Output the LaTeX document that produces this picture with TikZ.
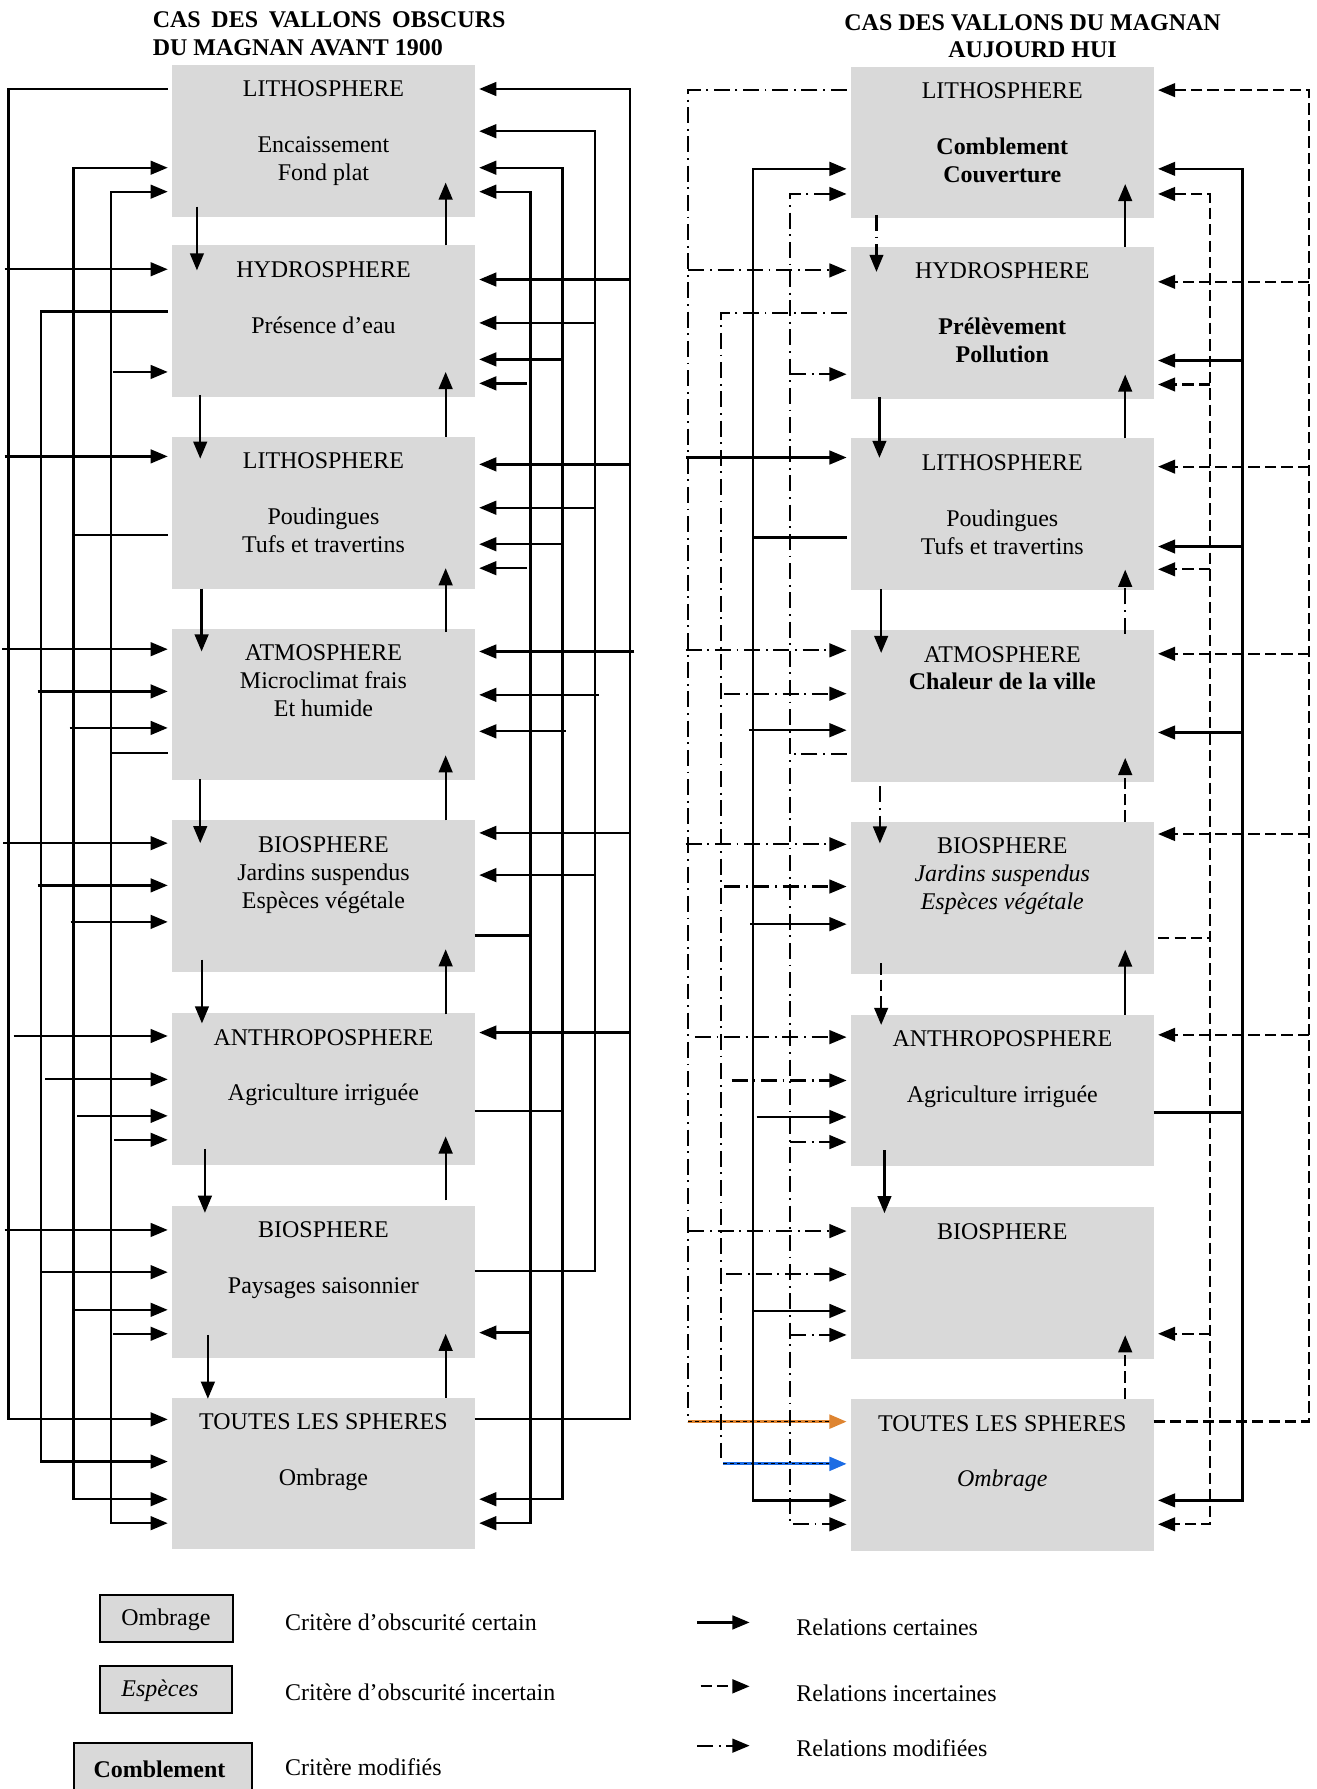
\documentclass[tikz,border=0pt]{standalone}
\usepackage{fontspec}
\setmainfont{Liberation Serif}
\usetikzlibrary{arrows.meta,positioning,calc}
\definecolor{boxgray}{RGB}{217,217,217}
\definecolor{rust}{RGB}{222,132,48}
\definecolor{azur}{RGB}{28,108,228}
\tikzset{
  sphere/.style={fill=boxgray,minimum width=132.5pt,minimum height=66.5pt,inner sep=0pt,outer sep=0pt},
  sptext/.style={align=center,inner sep=0pt,outer sep=0pt,font=\fontsize{10.5}{12.25}\selectfont},
  legbox/.style={draw,fill=boxgray,line width=0.9pt,inner sep=0pt},
  certain/.style={line width=1pt},
  incert/.style={line width=1pt,dash pattern=on 5pt off 2.2pt},
  modif/.style={line width=0.9pt,dash pattern=on 7pt off 2.5pt on 0.8pt off 2.5pt},
  into/.style={->,shorten >=2pt},
  both/.style={<->,shorten <=2pt,shorten >=2pt},
  gap/.style={shorten <=2pt}
}
\begin{document}
\begin{tikzpicture}[x=0.5pt,y=-0.5pt,>={Triangle[length=7.5pt,width=6pt]}]
\useasboundingbox (0,0) rectangle (1154,1568);

% titles
\node[sptext,font=\fontsize{10.5}{12.25}\selectfont\bfseries,align=left,anchor=west] (titreg) at (134,29.7)
  {\makebox[154.5pt][s]{CAS DES VALLONS OBSCURS}\\DU MAGNAN AVANT 1900};
\node[sptext,font=\fontsize{10.5}{12.25}\selectfont\bfseries] (titred) at (905,31.7)
  {CAS DES VALLONS DU MAGNAN\\AUJOURD HUI};

% spheres
\foreach \i/\y in {1/123.5,2/281.5,3/449.5,4/617.5,5/785.5,6/954.5,7/1123.5,8/1291.5}{
  \node[sphere] (l\i) at (283.5,\y) {};
  \node[sphere] (r\i) at (878.5,\y+1.3) {};
}

% avant 1900
\node[sptext,below=5.4pt of l1.north] (tl1) {\strut LITHOSPHERE\\[12.25pt]Encaissement\\Fond plat};
\node[sptext,below=5.4pt of l2.north] (tl2) {\strut HYDROSPHERE\\[12.25pt]Présence d’eau};
\node[sptext,below=5.4pt of l3.north] (tl3) {\strut LITHOSPHERE\\[12.25pt]Poudingues\\Tufs et travertins};
\node[sptext,below=5.4pt of l4.north] (tl4) {\strut ATMOSPHERE\\Microclimat frais\\Et humide};
\node[sptext,below=5.4pt of l5.north] (tl5) {\strut BIOSPHERE\\Jardins suspendus\\Espèces végétale};
\node[sptext,below=5.4pt of l6.north] (tl6) {\strut ANTHROPOSPHERE\\[12.25pt]Agriculture irriguée};
\node[sptext,below=5.4pt of l7.north] (tl7) {\strut BIOSPHERE\\[12.25pt]Paysages saisonnier};
\node[sptext,below=5.4pt of l8.north] (tl8) {\strut TOUTES LES SPHERES\\[12.25pt]Ombrage};

% aujourd'hui
\node[sptext,below=5.4pt of r1.north] (tr1) {\strut LITHOSPHERE\\[12.25pt]\textbf{Comblement}\\\textbf{Couverture}};
\node[sptext,below=5.4pt of r2.north] (tr2) {\strut HYDROSPHERE\\[12.25pt]\textbf{Prélèvement}\\\textbf{Pollution}};
\node[sptext,below=5.4pt of r3.north] (tr3) {\strut LITHOSPHERE\\[12.25pt]Poudingues\\Tufs et travertins};
\node[sptext,below=5.4pt of r4.north] (tr4) {\strut ATMOSPHERE\\\textbf{Chaleur de la ville}};
\node[sptext,below=5.4pt of r5.north] (tr5) {\strut BIOSPHERE\\\textit{Jardins suspendus}\\\textit{Espèces végétale}};
\node[sptext,below=5.4pt of r6.north] (tr6) {\strut ANTHROPOSPHERE\\[12.25pt]Agriculture irriguée};
\node[sptext,below=5.4pt of r7.north] (tr7) {\strut BIOSPHERE};
\node[sptext,below=5.4pt of r8.north] (tr8) {\strut TOUTES LES SPHERES\\[12.25pt]\textit{Ombrage}};

% vertical links, avant 1900
\foreach \x/\src/\dsrc/\dst/\ddst in {172.6/l1/-9/l2/22,175.5/l2/-2/l3/19,176.7/l3/0/l4/20,175.5/l4/-1/l5/20,
    177/l5/-11/l6/9,179.6/l6/-14/l7/6,182.2/l7/-20/l8/1}
  \draw[certain,->] ($(\x,0 |- \src.south)+(0,\dsrc)$) -- ($(\x,0 |- \dst.north)+(0,\ddst)$);
\foreach \src/\dsrc/\dst/\ddst in {l2/0/l1/-30,l3/0/l2/-22,l4/3/l3/-18,l5/0/l4/-22,l6/1/l5/-20,l7/-5/l6/-25,l8/0/l7/-21}
  \draw[certain,->] ($(390.6,0 |- \src.north)+(0,\dsrc)$) -- ($(390.6,0 |- \dst.south)+(0,\ddst)$);

% left buses, avant 1900
\draw[certain,into,gap] (l1.west |- 0,78) -- (7.5,78) -- (7.5,1244) -- (l8.west |- 0,1244);
\foreach \n/\y/\xs in {l2/236/4,l3/400/4,l4/569/2,l5/739/3,l6/908/12,l7/1078/4}
  \draw[certain,into] (\xs,\y) -- (\n.west |- 0,\y);
\draw[certain,into,gap] (l2.west |- 0,273) -- (36,273) -- (36,1281) -- (l8.west |- 0,1281);
\foreach \n/\y/\xs in {l4/606/33,l5/776/33,l6/946/39.5,l7/1115/36}
  \draw[certain,into] (\xs,\y) -- (\n.west |- 0,\y);
\draw[certain,both] (l1.west |- 0,147) -- (64.5,147) -- (64.5,1314) -- (l8.west |- 0,1314);
\draw[certain,gap] (l3.west |- 0,469) -- (64.5,469);
\foreach \n/\y/\xs in {l4/638/61,l5/808/62,l6/978/67.5,l7/1148/64.5}
  \draw[certain,into] (\xs,\y) -- (\n.west |- 0,\y);
\draw[certain,both] (l1.west |- 0,168) -- (97,168) -- (97,1335) -- (l8.west |- 0,1335);
\draw[certain,gap] (l4.west |- 0,660) -- (97,660);
\foreach \n/\y/\xs in {l2/326/99,l6/999/100,l7/1169/99}
  \draw[certain,into] (\xs,\y) -- (\n.west |- 0,\y);

% right buses, avant 1900
\draw[certain,into] (l8.east |- 0,1244) -- (552,1244) -- (552,78) -- (l1.east |- 0,78);
\foreach \n/\y/\xs in {l2/245/553,l3/407/553,l4/571/556,l5/730/553,l6/905/553}
  \draw[certain,into] (\xs,\y) -- (\n.east |- 0,\y);
\draw[certain,into] (l7.east |- 0,1114) -- (521.5,1114) -- (521.5,115) -- (l1.east |- 0,115);
\foreach \n/\y/\xs in {l2/283/521.5,l3/445/521.5,l4/609/525,l5/767/521.5}
  \draw[certain,into] (\xs,\y) -- (\n.east |- 0,\y);
\draw[certain,both] (l1.east |- 0,147) -- (493,147) -- (493,1314) -- (l8.east |- 0,1314);
\draw[certain] (l6.east |- 0,974) -- (493,974);
\foreach \n/\y/\xs in {l2/315/493,l3/477/493,l4/641/496}
  \draw[certain,into] (\xs,\y) -- (\n.east |- 0,\y);
\draw[certain,both] (l1.east |- 0,168) -- (465,168) -- (465,1335) -- (l8.east |- 0,1335);
\draw[certain] (l5.east |- 0,820) -- (465,820);
\foreach \n/\y/\xs in {l2/336/462,l3/498/462,l7/1168/465}
  \draw[certain,into] (\xs,\y) -- (\n.east |- 0,\y);

% vertical links, aujourd'hui
\foreach \x/\src/\dsrc/\dst/\ddst/\st in {768.2/r1/-3/r2/22/modif,770.8/r2/-1/r3/17/certain,772.3/r3/-1/r4/20/certain,
    771.2/r4/4/r5/19/modif,772.3/r5/-9/r6/9/incert,775.2/r6/-14/r7/5/certain}
  \draw[\st,->] ($(\x,0 |- \src.south)+(0,\dsrc)$) -- ($(\x,0 |- \dst.north)+(0,\ddst)$);
\foreach \src/\dsrc/\dst/\ddst/\st in {r2/0/r1/-30/certain,r3/0/r2/-21/certain,r4/3/r3/-18/modif,
    r5/0/r4/-21/incert,r6/0/r5/-21/certain,r8/0/r7/-21/incert}
  \draw[\st,->] ($(986.2,0 |- \src.north)+(0,\dsrc)$) -- ($(986.2,0 |- \dst.south)+(0,\ddst)$);

% left buses, aujourd'hui
\draw[modif,gap] (r1.west |- 0,79) -- (603.4,79) -- (603.4,1246);
\draw[line width=1.3pt,rust,into] (603.4,1246) -- (r8.west |- 0,1246);
\draw[line width=0.5pt,dash pattern=on 1.5pt off 1.5pt,shorten >=9pt] (603.4,1246) -- (r8.west |- 0,1246);
\foreach \n/\y/\xs/\st in {r2/237/603.4/modif,r3/401/601.5/certain,r4/570/601/modif,r5/740/601/modif,
    r6/909/609/modif,r7/1079/603.4/modif}
  \draw[\st,into] (\xs,\y) -- (\n.west |- 0,\y);
\draw[modif,gap] (r2.west |- 0,274) -- (631.8,274) -- (631.8,1278);
\foreach \n/\y/\xs in {r4/608/634.7,r5/777/634.7,r6/947/641.3,r7/1117/636.6}
  \draw[modif,into] (\xs,\y) -- (\n.west |- 0,\y);
\draw[line width=1.3pt,azur,into] (634,1283) -- (r8.west |- 0,1283);
\draw[line width=0.5pt,dash pattern=on 1.5pt off 1.5pt,shorten >=9pt] (634,1283) -- (r8.west |- 0,1283);
\draw[certain,both] (r1.west |- 0,148) -- (660.2,148) -- (660.2,1315) -- (r8.west |- 0,1315);
\draw[certain,gap] (r3.west |- 0,471) -- (660.2,471);
\foreach \n/\y/\xs in {r4/640/656.8,r5/810/657.5,r6/979/663.1,r7/1149/660.2}
  \draw[certain,into] (\xs,\y) -- (\n.west |- 0,\y);
\draw[modif,both] (r1.west |- 0,170) -- (692.6,170) -- (692.6,1336) -- (r8.west |- 0,1336);
\draw[modif,gap] (r4.west |- 0,661) -- (692.6,661);
\foreach \n/\y in {r2/328,r6/1001,r7/1170}
  \draw[modif,into] (692.6,\y) -- (\n.west |- 0,\y);

% right buses, aujourd'hui
\draw[incert,into] (r8.east |- 0,1246) -- (1147.3,1246) -- (1147.3,79) -- (r1.east |- 0,79);
\foreach \n/\y in {r2/247,r3/409,r4/573,r5/731,r6/907}
  \draw[incert,into] (1147.3,\y) -- (\n.east |- 0,\y);
\draw[certain,both] (r1.east |- 0,148) -- (1089.1,148) -- (1089.1,1315) -- (r8.east |- 0,1315);
\draw[certain] (r6.east |- 0,975) -- (1089.1,975);
\foreach \n/\y in {r2/316,r3/479,r4/642}
  \draw[certain,into] (1089.1,\y) -- (\n.east |- 0,\y);
\draw[incert,both] (r1.east |- 0,170) -- (1060.7,170) -- (1060.7,1336) -- (r8.east |- 0,1336);
\draw[incert,gap] (r5.east |- 0,822) -- (1060.7,822);
\foreach \n/\y in {r2/337,r3/499,r7/1169}
  \draw[incert,into] (1060.7,\y) -- (\n.east |- 0,\y);

% legend
\node[legbox,minimum width=58pt,minimum height=20.5pt] (lgo) at (146,1418.5) {};
\node[sptext] (lgot) at (145.4,1420) {Ombrage};
\node[legbox,minimum width=57.7pt,minimum height=20.7pt] (lge) at (145.3,1481) {};
\node[sptext] (lget) at (140.2,1482) {\textit{Espèces}};
\node[legbox,minimum width=78pt,minimum height=27pt] (lgc) at (143,1555) {};
\node[sptext] (lgct) at (139.8,1551) {\textbf{Comblement}};
\node[sptext,anchor=west] (crit1) at (250,1422) {Critère d’obscurité certain};
\node[sptext,anchor=west] (crit2) at (250,1483) {Critère d’obscurité incertain};
\node[sptext,anchor=west] (crit3) at (250,1549) {Critère modifiés};
\coordinate (ca1) at (611,1422); \coordinate (cb1) at (657,1422);
\coordinate (ca2) at (614,1478); \coordinate (cb2) at (657,1478);
\coordinate (ca3) at (611,1530); \coordinate (cb3) at (657,1530);
\draw[certain,->] (ca1) -- (cb1);
\draw[incert,->] (ca2) -- (cb2);
\draw[modif,->] (ca3) -- (cb3);
\node[sptext,anchor=west] (rel1) at (698,1426) {Relations certaines};
\node[sptext,anchor=west] (rel2) at (698,1484) {Relations incertaines};
\node[sptext,anchor=west] (rel3) at (698,1532) {Relations modifiées};
\end{tikzpicture}
\end{document}
